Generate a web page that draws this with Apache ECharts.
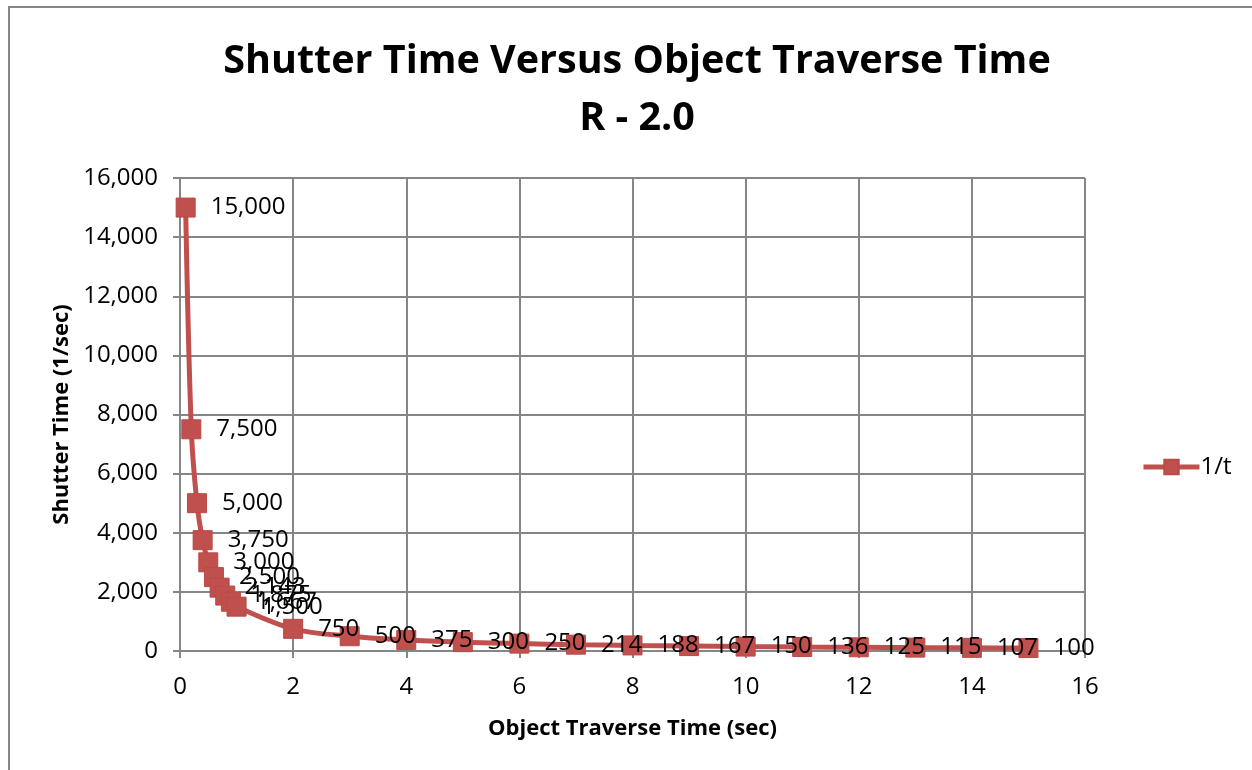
<!DOCTYPE html>
<html><head><meta charset="utf-8">
<script src="https://cdn.jsdelivr.net/npm/echarts@6/dist/echarts.min.js"></script>
<style>html,body{margin:0;padding:0;background:#fff;}#c{width:1252px;height:770px;}</style>
</head><body><div id="c"></div>
<script>
const titleLines = ["Shutter Time Versus Object Traverse Time", "R - 2.0"];
const seriesName = "1/t";
const xValues = [0.1,0.2,0.3,0.4,0.5,0.6,0.7,0.8,0.9,1,2,3,4,5,6,7,8,9,10,11,12,13,14,15];
const yValues = [15000,7500,5000,3750,3000,2500,2143,1875,1667,1500,750,500,375,300,250,214,188,167,150,136,125,115,107,100];
const xAxisName = "Object Traverse Time (sec)";
const yAxisName = "Shutter Time (1/sec)";

const FONT = "Open Sans";
const color = "#C0504D";
const fmt = v => Math.round(v).toLocaleString('en-US');

const chart = echarts.init(document.getElementById('c'), null, {renderer: 'canvas'});
chart.setOption({
  animation: false,
  backgroundColor: '#fff',
  graphic: [{
    type: 'rect', shape: {x: 9, y: 7, width: 1400, height: 900},
    style: {fill: 'none', stroke: '#868686', lineWidth: 2}, silent: true, z: -1
  }],
  title: {
    text: titleLines.join('\n'),
    left: 632, top: 28, textAlign: 'center',
    textStyle: {fontFamily: FONT, fontWeight: 'bold', fontSize: 39.5, lineHeight: 57, color: '#000'}
  },
  legend: {
    left: 1136, top: 450, orient: 'vertical',
    itemWidth: 56, itemHeight: 18, itemGap: 10,
    lineStyle: {width: 5, color: color},
    textStyle: {fontFamily: FONT, fontSize: 24, color: '#000', padding: [0,0,0,-4]},
    data: [{name: seriesName}]
  },
  grid: {left: 180, right: 167, top: 178, bottom: 119, containLabel: false},
  xAxis: {
    type: 'value', min: 0, max: 16, interval: 2,
    name: xAxisName, nameLocation: 'middle', nameGap: 67,
    nameTextStyle: {fontFamily: FONT, fontWeight: 'bold', fontSize: 22, color: '#000'},
    axisLine: {show: true, onZero: false, lineStyle: {color: '#868686', width: 2}},
    axisTick: {show: true, inside: false, length: 7, lineStyle: {color: '#868686', width: 2}},
    axisLabel: {fontFamily: FONT, fontSize: 24, color: '#000', margin: 24},
    splitLine: {show: true, lineStyle: {color: '#868686', width: 2}}
  },
  yAxis: {
    type: 'value', min: 0, max: 16000, interval: 2000,
    name: yAxisName, nameLocation: 'middle', nameGap: 106, nameRotate: 90,
    nameTextStyle: {fontFamily: FONT, fontWeight: 'bold', fontSize: 22, color: '#000'},
    axisLine: {show: true, lineStyle: {color: '#868686', width: 2}},
    axisTick: {show: true, inside: false, length: 7, lineStyle: {color: '#868686', width: 2}},
    axisLabel: {fontFamily: FONT, fontSize: 24, color: '#000', margin: 22, formatter: fmt},
    splitLine: {show: true, lineStyle: {color: '#868686', width: 2}}
  },
  series: [{
    name: seriesName, type: 'line', smooth: 0.35,
    data: xValues.map((x, i) => [x, yValues[i]]),
    symbol: 'rect', symbolSize: 19,
    lineStyle: {color: color, width: 5},
    itemStyle: {color: color, borderColor: '#B84A47', borderWidth: 1},
    label: {
      show: true, position: 'right', distance: 15,
      fontFamily: FONT, fontSize: 24, color: '#000',
      formatter: p => fmt(p.value[1])
    },
    z: 3
  }]
});
</script></body></html>
